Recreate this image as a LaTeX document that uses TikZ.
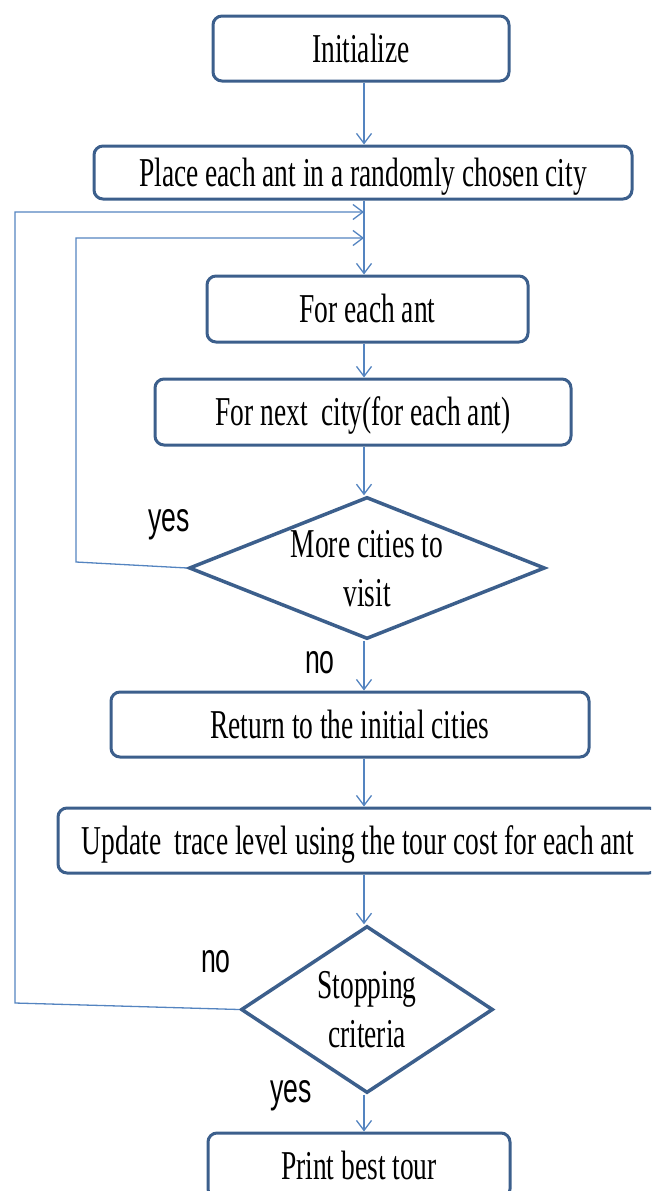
\documentclass[tikz,border=0pt]{standalone}
\usepackage{fontspec}
\setmainfont{Liberation Serif}[FakeStretch=0.67]
\newfontfamily\labfont{Liberation Sans}[FakeStretch=0.65]
\usetikzlibrary{shapes.geometric,arrows.meta}
\definecolor{boxc}{RGB}{60,95,140}
\definecolor{linec}{RGB}{84,132,192}
\tikzset{
  stepbox/.style={draw=boxc, line width=3pt, rounded corners=9pt, fill=white,
    inner sep=0pt, text height=27pt, text depth=0pt,
    font=\fontsize{41}{49}\selectfont},
  decision/.style={draw=boxc, line width=3.5pt, diamond, inner sep=0pt, fill=white},
  dtext/.style={align=center, inner sep=0pt, font=\fontsize{41}{49}\selectfont},
  lab/.style={anchor=base, inner sep=0pt, font=\labfont\fontsize{41}{49}\selectfont},
  conn/.style={draw=linec, line width=1.3pt},
  arr/.style={conn, -{Straight Barb[length=10pt,width=15pt]}},
}
\begin{document}
\begin{tikzpicture}[x=1pt,y=-1pt]
\useasboundingbox (0,0) rectangle (651,1191);
\clip (0,0) rectangle (651,1191);
\coordinate (spine) at (364,0);

\node[stepbox, minimum width=296pt, minimum height=65pt] (init) at (361,48.5) {Initialize};
\node[stepbox, minimum width=538pt, minimum height=53pt] (place) at (363,172.5) {Place each ant in a randomly chosen city};
\node[stepbox, minimum width=321pt, minimum height=66pt] (fea) at (367.5,309) {For each ant};
\node[stepbox, minimum width=416pt, minimum height=66pt] (fnc) at (363,412) {For next\ \ city(for each ant)};
\node[decision, minimum width=356pt, minimum height=142pt] (d1) at (367,568) {};
\node[dtext] (d1t) at (367,569) {More cities to\\visit};
\node[stepbox, minimum width=478pt, minimum height=65pt] (ret) at (350,724.5) {Return to the initial cities};
\node[stepbox, minimum width=600pt, minimum height=65pt] (upd) at (358,840.5) {Update\ \ trace level using the tour cost for each ant};
\node[decision, minimum width=252pt, minimum height=167pt] (d2) at (367,1009.5) {};
\node[dtext] (d2t) at (367,1009.5) {Stopping\\criteria};
\node[stepbox, minimum width=302pt, minimum height=65pt] (print) at (359,1165.5) {Print best tour};

\node[lab] (yes1) at (169,531) {yes};
\node[lab] (no1) at (320,673) {no};
\node[lab] (no2) at (216,972) {no};
\node[lab] (yes2) at (291,1102) {yes};

\coordinate (in1) at (76,562);
\coordinate (in2) at (76,238);
\coordinate (in3) at (364,238);
\coordinate (out1) at (15,1003);
\coordinate (out2) at (15,212);
\coordinate (out3) at (364,212);

\draw[arr] (init.south -| spine) -- (place.north -| spine);
\draw[arr] (place.south -| spine) -- (fea.north -| spine);
\draw[arr] (fea.south -| spine) -- (fnc.north -| spine);
\draw[arr] (fnc.south -| spine) -- (d1.north -| spine);
\draw[arr] (d1.south -| spine) -- (ret.north -| spine);
\draw[arr] (ret.south -| spine) -- (upd.north -| spine);
\draw[arr] (upd.south -| spine) -- (d2.north -| spine);
\draw[arr] (d2.south -| spine) -- (print.north -| spine);
\draw[arr] (d1.west) -- (in1) -- (in2) -- (in3);
\draw[arr] (d2.west) -- (out1) -- (out2) -- (out3);
\end{tikzpicture}
\end{document}
